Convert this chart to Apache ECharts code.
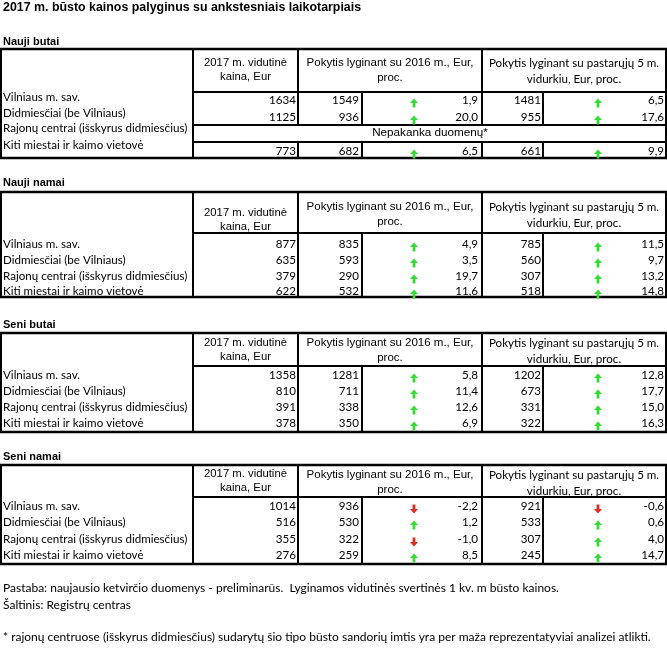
<!DOCTYPE html>
<html><head><meta charset="utf-8">
<script src="https://cdn.jsdelivr.net/npm/echarts@6/dist/echarts.min.js"></script>
<style>html,body{margin:0;padding:0;background:#fff}#c{width:667px;height:648px}</style>
</head><body><div id="c"></div>
<script>
// ---- data ----
const title = '2017 m. būsto kainos palyginus su ankstesniais laikotarpiais';
const sections = ['Nauji butai', 'Nauji namai', 'Seni butai', 'Seni namai'];
const regions = ['Vilniaus m. sav.', 'Didmiesčiai (be Vilniaus)', 'Rajonų centrai (išskyrus didmiesčius)', 'Kiti miestai ir kaimo vietovė'];
const headerA = '2017 m. vidutinė\nkaina, Eur';
const headerB = 'Pokytis lyginant su 2016 m., Eur,\nproc.';
const headerC = 'Pokytis lyginant su pastarųjų 5 m.\nvidurkiu, Eur, proc.';
const price2017 = [[1634, 1125, null, 773], [877, 635, 379, 622], [1358, 810, 391, 378], [1014, 516, 355, 276]];
const price2016 = [[1549, 936, null, 682], [835, 593, 290, 532], [1281, 711, 338, 350], [936, 530, 322, 259]];
const change2016 = [[1.9, 20.0, null, 6.5], [4.9, 3.5, 19.7, 11.6], [5.8, 11.4, 12.6, 6.9], [-2.2, 1.2, -1.0, 8.5]];
const avg5y = [[1481, 955, null, 661], [785, 560, 307, 518], [1202, 673, 331, 322], [921, 533, 307, 245]];
const change5y = [[6.5, 17.6, null, 9.9], [11.5, 9.7, 13.2, 14.8], [12.8, 17.7, 15.0, 16.3], [-0.6, 0.6, 4.0, 14.7]];
const noDataText = 'Nepakanka duomenų*';
const notes = [
  'Pastaba: naujausio ketvirčio duomenys - preliminarūs.  Lyginamos vidutinės svertinės 1 kv. m būsto kainos.',
  'Šaltinis: Registrų centras',
  '* rajonų centruose (išskyrus didmiesčius) sudarytų šio tipo būsto sandorių imtis yra per maža reprezentatyviai analizei atlikti.'
];

// ---- layout ----
const W = 667, H = 648;
const colX = { left: 1, a: 193, b: 298, b2: 362, c: 482, c2: 543, right: 666 };
const valX = { a: 296, b: 359, bp: 478, c: 541, cp: 664, barrow: 414, carrow: 598 };
const tables = [
  { titleY: 42, top: 49, hb: 92, bottom: 158, hA: 63, hB: 63, labY: [97, 113, 128, 145], valY: [100, 117, 133, 151], gap: [125, 142] },
  { titleY: 183, top: 192, hb: 233, bottom: 297, hA: 213, hB: 207, labY: [244, 260, 276, 291], valY: [244, 260, 276, 291] },
  { titleY: 325, top: 333, hb: 366, bottom: 432, hA: 343, hB: 343, labY: [375, 391, 407, 423], valY: [375, 391, 407, 423] },
  { titleY: 457, top: 465, hb: 497, bottom: 564, hA: 474, hB: 475, labY: [506, 522, 539, 555], valY: [506, 522, 539, 555] }
];
const noteY = [588, 605, 637];
const FA = '"Liberation Sans", Arial, sans-serif';
const FC = 'Lato, "Open Sans", sans-serif';
const CS = '11.6px ';
const GREEN = '#2fe02f', RED = '#e8261e';

const fmt = v => v.toFixed(1).replace('.', ',');

// ---- build element list ----
const items = [];
function txt(x, y, text, font, align, extra) { items.push(Object.assign({ k: 't', x, y, text, font, align }, extra || {})); }
function ln(x1, y1, x2, y2, w) { items.push({ k: 'l', x1, y1, x2, y2, w: w || 2 }); }
function arrow(x, y, up) { items.push({ k: 'a', x, y, up }); }

txt(3, 8, title, 'bold 12.4px ' + FA, 'left');
tables.forEach((t, ti) => {
  txt(3, t.titleY, sections[ti], 'bold 11px ' + FA, 'left');
  // borders
  ln(0, t.top, W, t.top, 2.4);
  ln(0, t.bottom, W, t.bottom, 2.4);
  ln(colX.a, t.hb, W, t.hb);
  ln(colX.left, t.top, colX.left, t.bottom);
  ln(colX.right, t.top, colX.right, t.bottom);
  ln(colX.a, t.top, colX.a, t.bottom);
  const vert = (x, y1) => {
    if (t.gap) { ln(x, y1, x, t.gap[0]); ln(x, t.gap[1], x, t.bottom); }
    else ln(x, y1, x, t.bottom);
  };
  vert(colX.b, t.top); vert(colX.c, t.top);
  vert(colX.b2, t.hb); vert(colX.c2, t.hb);
  if (t.gap) { ln(colX.a, t.gap[0], W, t.gap[0]); ln(colX.a, t.gap[1], W, t.gap[1]); }
  // headers (y given = first line centre)
  txt((colX.a + colX.b) / 2, t.hA + 7, headerA, '11.3px ' + FA, 'center', { lh: 14 });
  txt((colX.b + colX.c) / 2, t.hB + 7.5, headerB, '11.5px ' + FA, 'center', { lh: 15 });
  txt((colX.c + colX.right) / 2, t.hB + 8, headerC, CS + FC, 'center', { lh: 16 });
  // rows
  regions.forEach((r, ri) => {
    txt(3, t.labY[ri], r, CS + FC, 'left');
    const y = t.valY[ri];
    if (price2017[ti][ri] == null) {
      txt((colX.a + W) / 2, y, noDataText, '11.7px ' + FA, 'center');
      return;
    }
    txt(valX.a, y, String(price2017[ti][ri]), CS + FC, 'right');
    txt(valX.b, y, String(price2016[ti][ri]), CS + FC, 'right');
    txt(valX.bp, y, fmt(change2016[ti][ri]), CS + FC, 'right');
    arrow(valX.barrow, y + 3, change2016[ti][ri] >= 0);
    txt(valX.c, y, String(avg5y[ti][ri]), CS + FC, 'right');
    txt(valX.cp, y, fmt(change5y[ti][ri]), CS + FC, 'right');
    arrow(valX.carrow, y + 3, change5y[ti][ri] >= 0);
  });
});
notes.forEach((n, i) => txt(3, noteY[i], n, '12px ' + FC, 'left'));

// ---- render ----
const chart = echarts.init(document.getElementById('c'), null, { renderer: 'canvas' });
chart.setOption({
  animation: false,
  backgroundColor: '#fff',
  grid: { left: 0, right: 0, top: 0, bottom: 0 },
  xAxis: { type: 'value', min: 0, max: W, show: false },
  yAxis: { type: 'value', min: 0, max: H, inverse: true, show: false },
  series: [{
    type: 'custom',
    clip: false,
    data: items.map((it, i) => [it.x != null ? it.x : it.x1, it.y != null ? it.y : it.y1, i]),
    renderItem: (params, api) => {
      const it = items[api.value(2)];
      if (it.k === 't') {
        const p = api.coord([it.x, it.y]);
        return { type: 'text', style: { text: it.text, x: p[0], y: p[1], font: it.font, fill: '#000', align: it.align, verticalAlign: 'middle', lineHeight: it.lh } };
      }
      if (it.k === 'l') {
        const a = api.coord([it.x1, it.y1]), b = api.coord([it.x2, it.y2]);
        return { type: 'line', shape: { x1: a[0], y1: a[1], x2: b[0], y2: b[1] }, style: { stroke: '#000', lineWidth: it.w } };
      }
      const c = api.coord([it.x, it.y]);
      const s = it.up ? 1 : -1;
      const pts = [[-4, 0], [0, -4.5], [4, 0], [1.4, 0], [1.4, 4.5], [-1.4, 4.5], [-1.4, 0]]
        .map(q => [c[0] + q[0], c[1] + s * q[1]]);
      return { type: 'polygon', shape: { points: pts }, style: { fill: it.up ? GREEN : RED } };
    }
  }]
});
</script></body></html>
